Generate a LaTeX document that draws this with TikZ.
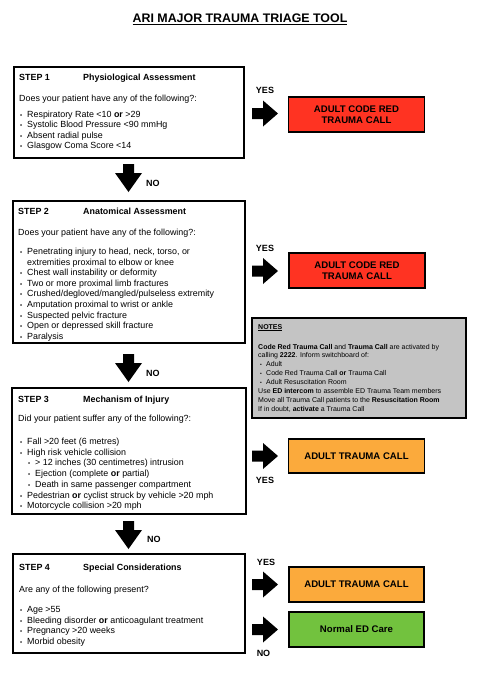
\documentclass[tikz,border=0pt]{standalone}
\usepackage{fontspec}
\setmainfont{Liberation Sans}
\usetikzlibrary{fit}
\definecolor{codered}{HTML}{FF3322}
\definecolor{tcorange}{HTML}{FBAA3C}
\definecolor{edgreen}{HTML}{72C23E}
\definecolor{notegray}{HTML}{C4C4C4}
\newcommand\bulmark{\makebox[7pt][l]{\fontsize{6}{6}\selectfont\textbullet}}
\newcommand\nbulmark{\makebox[6pt][l]{\fontsize{5}{5}\selectfont\textbullet}}
\newcommand\bodyfont{\fontsize{8.9}{10.6}\selectfont}
\newcommand\notefont{\fontsize{7.0}{8.9}\selectfont}
\newcommand\boxfont{\fontsize{9.6}{11}\selectfont\bfseries}
\newcommand\lblfont{\fontsize{9}{10}\selectfont\bfseries}
\newcommand\titlefont{\fontsize{12.4}{14}\selectfont\bfseries}
\tikzset{
  rarr/.pic={\fill[black] (0,-5.5) -- (11,-5.5) -- (11,-13) -- (26,0) -- (11,13) -- (11,5.5) -- (0,5.5) -- cycle;},
  darr/.pic={\fill[black] (-5.5,0) -- (-5.5,9) -- (-13.5,9) -- (0,28) -- (13.5,9) -- (5.5,9) -- (5.5,0) -- cycle;},
}
\begin{document}
\begin{tikzpicture}[x=1pt,y=-1pt,
  stepbox/.style={draw=black, line width=1.4pt, inner sep=0pt},
  outbox/.style={draw=black, line width=1.8pt, inner sep=0pt, font=\boxfont, align=center, minimum width=136pt, minimum height=35pt},
  txt/.style={anchor=base west, inner sep=0pt, font=\bodyfont},
  ntxt/.style={anchor=base west, inner sep=0pt, font=\notefont},
  lbl/.style={anchor=base, inner sep=0pt, font=\lblfont},
  nolbl/.style={anchor=base west, inner sep=0pt, font=\lblfont}]
\fill[white] (0,0) rectangle (487,681);
\useasboundingbox (0,0) rectangle (487,681);

% title
\node[anchor=base, inner sep=0pt, font=\titlefont] (title) at (240,22.5) {\underline{ARI MAJOR TRAUMA TRIAGE TOOL}};

% STEP 1
\node[stepbox, fit={(14,67)(244,158)}] (s1) {};
\node[txt] (s1h) at (19,80.5) {\textbf{STEP 1}};
\node[txt] (s1n) at (83,80.5) {\textbf{Physiological Assessment}};
\node[txt] (s1q) at (19,101.5) {Does your patient have any of the following?:};
\node[txt] (s1b1) at (20,117.5) {\bulmark Respiratory Rate <10 \textbf{or} >29};
\node[txt] (s1b2) at (20,127.8) {\bulmark Systolic Blood Pressure <90 mmHg};
\node[txt] (s1b3) at (20,138.2) {\bulmark Absent radial pulse};
\node[txt] (s1b4) at (20,148.5) {\bulmark Glasgow Coma Score <14};

% STEP 2
\node[stepbox, fit={(13,201)(245,343)}] (s2) {};
\node[txt] (s2h) at (18,214.5) {\textbf{STEP 2}};
\node[txt] (s2n) at (83,214.5) {\textbf{Anatomical Assessment}};
\node[txt] (s2q) at (18,235.5) {Does your patient have any of the following?:};
\node[txt] (s2b1) at (20,254.5) {\bulmark Penetrating injury to head, neck, torso, or};
\node[txt] (s2b1c) at (27,265.1) {extremities proximal to elbow or knee};
\node[txt] (s2b2) at (20,275.7) {\bulmark Chest wall instability or deformity};
\node[txt] (s2b3) at (20,286.3) {\bulmark Two or more proximal limb fractures};
\node[txt] (s2b4) at (20,296.9) {\bulmark Crushed/degloved/mangled/pulseless extremity};
\node[txt] (s2b5) at (20,307.5) {\bulmark Amputation proximal to wrist or ankle};
\node[txt] (s2b6) at (20,318.1) {\bulmark Suspected pelvic fracture};
\node[txt] (s2b7) at (20,328.7) {\bulmark Open or depressed skill fracture};
\node[txt] (s2b8) at (20,339.3) {\bulmark Paralysis};

% STEP 3
\node[stepbox, fit={(12,388)(246,514)}] (s3) {};
\node[txt] (s3h) at (18,402.5) {\textbf{STEP 3}};
\node[txt] (s3n) at (83,402.5) {\textbf{Mechanism of Injury}};
\node[txt] (s3q) at (18,421.5) {Did your patient suffer any of the following?:};
\node[txt] (s3b1) at (20,444.5) {\bulmark Fall >20 feet (6 metres)};
\node[txt] (s3b2) at (20,455.2) {\bulmark High risk vehicle collision};
\node[txt] (s3b2a) at (28,465.9) {\bulmark > 12 inches (30 centimetres) intrusion};
\node[txt] (s3b2b) at (28,476.6) {\bulmark Ejection (complete \textbf{or} partial)};
\node[txt] (s3b2c) at (28,487.3) {\bulmark Death in same passenger compartment};
\node[txt] (s3b3) at (20,498.0) {\bulmark Pedestrian \textbf{or} cyclist struck by vehicle >20 mph};
\node[txt] (s3b4) at (20,508.7) {\bulmark Motorcycle collision >20 mph};

% STEP 4
\node[stepbox, fit={(13,554)(245,653)}] (s4) {};
\node[txt] (s4h) at (19,570.5) {\textbf{STEP 4}};
\node[txt] (s4n) at (83,570.5) {\textbf{Special Considerations}};
\node[txt] (s4q) at (19,592.5) {Are any of the following present?};
\node[txt] (s4b1) at (20,612.5) {\bulmark Age >55};
\node[txt] (s4b2) at (20,623.1) {\bulmark Bleeding disorder \textbf{or} anticoagulant treatment};
\node[txt] (s4b3) at (20,633.7) {\bulmark Pregnancy >20 weeks};
\node[txt] (s4b4) at (20,644.3) {\bulmark Morbid obesity};

% outcome boxes
\node[outbox, fill=codered] (red1) at (356.5,114.5) {ADULT CODE RED\\TRAUMA CALL};
\node[outbox, fill=codered] (red2) at (357,270.5) {ADULT CODE RED\\TRAUMA CALL};
\node[outbox, fill=tcorange, minimum height=34pt] (org1) at (356.5,456) {ADULT TRAUMA CALL};
\node[outbox, fill=tcorange, minimum width=135pt] (org2) at (356.5,584.5) {ADULT TRAUMA CALL};
\node[outbox, fill=edgreen, minimum width=135pt] (grn) at (356.5,629.5) {Normal ED Care};

% notes
\node[stepbox, fill=notegray, fit={(252,318)(466,418)}] (notes) {};
\node[ntxt] (n0) at (258,329) {\textbf{\underline{NOTES}}};
\node[ntxt] (n1) at (258,349) {\textbf{Code Red Trauma Call} and \textbf{Trauma Call} are activated by};
\node[ntxt] (n2) at (258,357.9) {calling \textbf{2222}. Inform switchboard of:};
\node[ntxt] (n3) at (260,366.8) {\nbulmark Adult};
\node[ntxt] (n4) at (260,375.6) {\nbulmark Code Red Trauma Call \textbf{or} Trauma Call};
\node[ntxt] (n5) at (260,384.5) {\nbulmark Adult Resuscitation Room};
\node[ntxt] (n6) at (258,393.4) {Use \textbf{ED intercom} to assemble ED Trauma Team members};
\node[ntxt] (n7) at (258,402.3) {Move all Trauma Call patients to the \textbf{Resuscitation Room}};
\node[ntxt] (n8) at (258,411.2) {If in doubt, \textbf{activate} a Trauma Call};

% right arrows
\pic at (252,113.5) {rarr};
\pic at (252,271) {rarr};
\pic at (252,456) {rarr};
\pic at (252,584.5) {rarr};
\pic at (252,629.5) {rarr};
% down arrows
\pic at (128.5,164) {darr};
\pic at (128.5,354) {darr};
\pic at (128.5,521) {darr};

% labels
\node[lbl] (y1) at (265,93.5) {YES};
\node[lbl] (y2) at (265,251.5) {YES};
\node[lbl] (y3) at (265,483.5) {YES};
\node[lbl] (y4) at (266,565.5) {YES};
\node[lbl] (no5) at (263.5,656.5) {NO};
\node[nolbl] (no1) at (146,186.5) {NO};
\node[nolbl] (no2) at (146,376.5) {NO};
\node[nolbl] (no3) at (147,542.5) {NO};
\end{tikzpicture}
\end{document}
